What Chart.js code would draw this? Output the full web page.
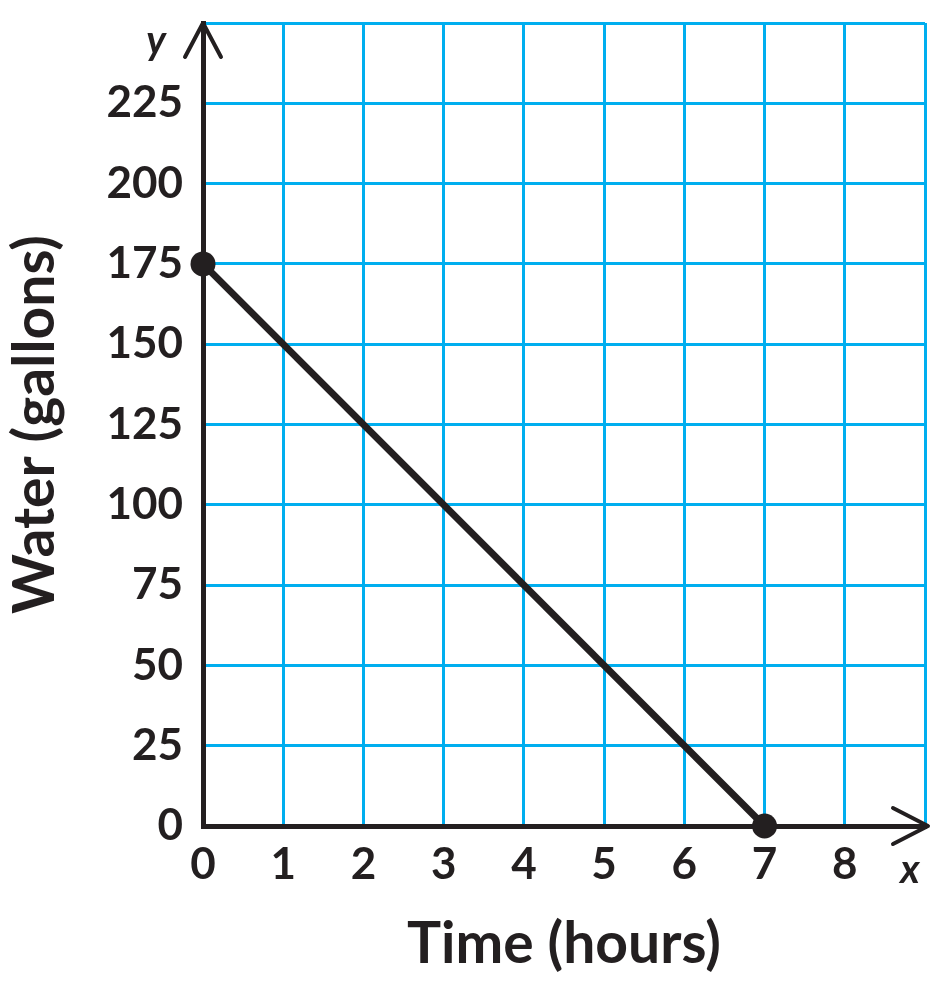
<!DOCTYPE html>
<html>
<head>
<meta charset="utf-8">
<script src="https://cdn.jsdelivr.net/npm/chart.js@4.4.1/dist/chart.umd.min.js"></script>
<style>
  html, body { margin: 0; padding: 0; background: #ffffff; }
  #wrap { width: 940px; height: 996px; position: relative; }
</style>
</head>
<body>
<div id="wrap"><canvas id="c" width="940" height="996"></canvas></div>
<script>
// ---- data ----
const timeHours = [0, 7];
const waterGallons = [175, 0];
const xTickValues = [0, 1, 2, 3, 4, 5, 6, 7, 8];
const yTickValues = [0, 25, 50, 75, 100, 125, 150, 175, 200, 225];
const xAxisTitle = 'Time (hours)';
const yAxisTitle = 'Water (gallons)';
const xAxisLetter = 'x';
const yAxisLetter = 'y';

const INK = '#231f20';
const GRID = '#00aeef';
const FONT = 'Lato, "DejaVu Sans", sans-serif';

const axisArrows = {
  id: 'axisArrows',
  afterDatasetsDraw(chart) {
    const { ctx, scales: { x, y } } = chart;
    const x0 = x.getPixelForValue(0), y0 = y.getPixelForValue(0);
    const xTop = y.getPixelForValue(y.max);
    const xRight = x.getPixelForValue(x.max) + 3;
    ctx.save();
    ctx.strokeStyle = INK;
    ctx.lineWidth = 4;
    ctx.lineCap = 'round';
    ctx.lineJoin = 'round';
    // y arrow
    ctx.beginPath();
    ctx.moveTo(x0 - 18, xTop + 34);
    ctx.lineTo(x0, xTop);
    ctx.lineTo(x0 + 18, xTop + 34);
    ctx.stroke();
    // x arrow
    ctx.beginPath();
    ctx.moveTo(xRight - 35, y0 - 18);
    ctx.lineTo(xRight, y0);
    ctx.lineTo(xRight - 35, y0 + 18);
    ctx.stroke();
    // axis letters
    ctx.fillStyle = INK;
    ctx.font = 'italic 700 40px ' + FONT;
    ctx.textAlign = 'center';
    ctx.textBaseline = 'middle';
    ctx.fillText(yAxisLetter, x0 - 47, xTop + 18);
    ctx.fillText(xAxisLetter, x.getPixelForValue(x.max) - 15, y0 + 44);
    ctx.restore();
  }
};

new Chart(document.getElementById('c'), {
  type: 'line',
  data: {
    datasets: [{
      data: timeHours.map((t, i) => ({ x: t, y: waterGallons[i] })),
      borderColor: INK,
      backgroundColor: INK,
      borderWidth: 7,
      pointRadius: 12.5,
      pointHoverRadius: 12.5,
      pointBorderWidth: 0,
      clip: false,
      tension: 0
    }]
  },
  options: {
    responsive: false,
    animation: false,
    devicePixelRatio: 1,
    layout: { padding: { left: 0, right: 15, top: 23, bottom: 0 } },
    plugins: { legend: { display: false }, tooltip: { enabled: false } },
    scales: {
      x: {
        type: 'linear',
        min: 0, max: 9,
        afterBuildTicks: (s) => { s.ticks = xTickValues.concat([9]).map(v => ({ value: v })); },
        afterFit: (s) => { s.height = 170; },
        ticks: {
          color: INK,
          font: { family: FONT, size: 44, weight: '700' },
          padding: 12,
          maxRotation: 0,
          autoSkip: false,
          callback: (v) => (xTickValues.includes(v) ? String(v) : '')
        },
        grid: { color: GRID, lineWidth: 3, drawTicks: false },
        border: { display: true, color: INK, width: 5 },
        title: {
          display: true,
          text: xAxisTitle,
          color: INK,
          font: { family: FONT, size: 57, weight: '700' },
          padding: { top: 0, bottom: 17 }
        }
      },
      y: {
        type: 'linear',
        min: 0, max: 250,
        afterBuildTicks: (s) => { s.ticks = yTickValues.concat([250]).map(v => ({ value: v })); },
        afterFit: (s) => { s.width = 203; s.paddingTop = 0; s.paddingBottom = 0; },
        ticks: {
          color: INK,
          font: { family: FONT, size: 44, weight: '700' },
          padding: 20,
          autoSkip: false,
          callback: (v) => (yTickValues.includes(v) ? String(v) : '')
        },
        grid: { color: GRID, lineWidth: 3, drawTicks: false },
        border: { display: true, color: INK, width: 5 },
        title: {
          display: true,
          text: yAxisTitle,
          color: INK,
          font: { family: FONT, size: 57, weight: '700' },
          padding: { top: 1, bottom: 0 }
        }
      }
    }
  },
  plugins: [axisArrows]
});
</script>
</body>
</html>
